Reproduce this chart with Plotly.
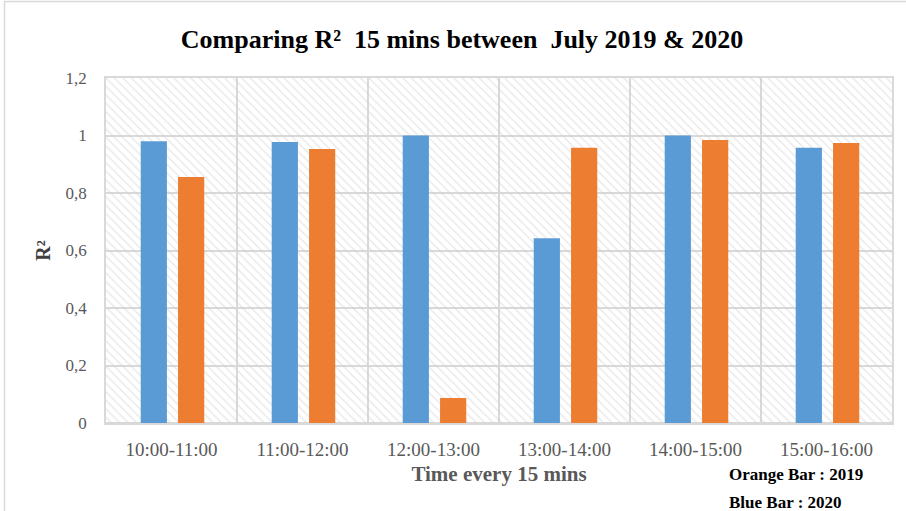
import plotly.graph_objects as go

categories = ["10:00-11:00", "11:00-12:00", "12:00-13:00", "13:00-14:00", "14:00-15:00", "15:00-16:00"]
blue_2020 = [0.98, 0.977, 1.0, 0.643, 1.0, 0.957]
orange_2019 = [0.856, 0.953, 0.087, 0.957, 0.984, 0.974]
y_ticks = [0, 0.2, 0.4, 0.6, 0.8, 1.0, 1.2]
y_tick_labels = ["0", "0,2", "0,4", "0,6", "0,8", "1", "1,2"]
y_max = 1.2

W, H = 906, 511
L, R, T, B = 106, 14, 78, 88
pw, ph = W - L - R, H - T - B

fig = go.Figure()

# hatched background
fig.add_trace(go.Bar(
    x=categories, y=[y_max] * len(categories), width=1, offset=-0.5,
    marker=dict(color="rgba(0,0,0,0)", line=dict(width=0),
                pattern=dict(shape="\\", fgcolor="#cfcfcf", bgcolor="rgba(0,0,0,0)",
                             size=6, solidity=0.22)),
    hoverinfo="skip", showlegend=False,
))
fig.add_trace(go.Bar(
    x=categories, y=blue_2020, width=0.2, offset=-0.235,
    marker=dict(color="#5B9BD5", line=dict(width=0)), name="2020", showlegend=False,
))
fig.add_trace(go.Bar(
    x=categories, y=orange_2019, width=0.2, offset=0.05,
    marker=dict(color="#ED7D31", line=dict(width=0)), name="2019", showlegend=False,
))

serif = "Liberation Serif, Times New Roman, serif"

fig.update_layout(
    width=W, height=H,
    margin=dict(l=L, r=R, t=T, b=B),
    barmode="overlay",
    plot_bgcolor="white", paper_bgcolor="white",
    font=dict(family=serif, color="#595959"),
    title=dict(text="<b>Comparing R²  15 mins between  July 2019 &amp; 2020</b>",
               x=462 / W, xanchor="center", y=1 - 39 / H, yanchor="middle",
               xref="container", yref="container",
               font=dict(family=serif, size=26, color="black")),
    xaxis=dict(
        type="category", tickson="boundaries", showgrid=True, gridcolor="#d9d9d9", gridwidth=1.5,
        showline=True, linecolor="#d9d9d9", linewidth=1.5, mirror=True,
        ticks="", ticklabelstandoff=8, tickfont=dict(family=serif, size=19, color="#595959"),
        title=dict(text="<b>Time every 15 mins</b>", font=dict(family=serif, size=21, color="#595959"),
                   standoff=8),
        range=[-0.5, len(categories) - 0.5],
    ),
    yaxis=dict(
        range=[0, y_max], tickvals=y_ticks, ticktext=y_tick_labels,
        showgrid=True, gridcolor="#d9d9d9", gridwidth=1.5,
        showline=True, linecolor="#d9d9d9", linewidth=1.5, mirror=True,
        zeroline=True, zerolinecolor="#d9d9d9", zerolinewidth=1.5,
        ticks="", ticklabelstandoff=14,
        tickfont=dict(family=serif, size=17, color="#595959"),
        title=dict(text="<b>R²</b>", font=dict(family=serif, size=20, color="#404040"), standoff=10),
    ),
    annotations=[
        dict(text="<b>Orange Bar : 2019</b>", x=(727 - L) / pw, y=(H - B - 474) / ph,
             xref="paper", yref="paper", xanchor="left", yanchor="middle", showarrow=False,
             font=dict(family=serif, size=17, color="black")),
        dict(text="<b>Blue Bar : 2020</b>", x=(727 - L) / pw, y=(H - B - 502) / ph,
             xref="paper", yref="paper", xanchor="left", yanchor="middle", showarrow=False,
             font=dict(family=serif, size=17, color="black")),
    ],
)

# outer chart border (partially visible at top-left)
fig.add_shape(type="rect", xref="paper", yref="paper",
              x0=(4.5 - L) / pw, x1=(W + 20 - L) / pw,
              y0=(H - B - (H + 20)) / ph, y1=(H - B - 1.5) / ph,
              line=dict(color="#d9d9d9", width=1.5), fillcolor="rgba(0,0,0,0)", layer="below")

fig.write_html("out.html")
